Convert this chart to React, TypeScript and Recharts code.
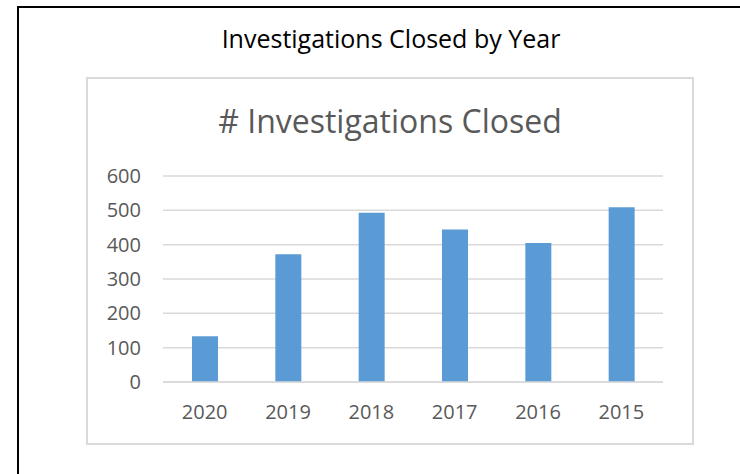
import React from "react";
import { BarChart, Bar, XAxis, YAxis, CartesianGrid } from "recharts";

const years = ["2020", "2019", "2018", "2017", "2016", "2015"];
const closed = [133, 372, 493, 444, 405, 509];
const yTicks = [0, 100, 200, 300, 400, 500, 600];

const data = years.map((year, i) => ({ year, closed: closed[i] }));

const FONT = '"Open Sans", sans-serif';
const GRID = "#d9d9d9";
const TEXT = "#595959";
const BAR = "#5b9bd5";

export default function App() {
  return (
    <div
      style={{
        position: "absolute", left: 0, top: 0, width: 740, height: 474,
        overflow: "hidden", background: "#fff", fontFamily: FONT,
      }}
    >
      {/* outer frame runs off the right and bottom edges */}
      <div
        style={{
          position: "absolute", left: 17, top: 6, width: 780, height: 520,
          border: "2px solid #000", boxSizing: "border-box",
        }}
      />
      <div
        style={{
          position: "absolute", left: 0, top: 26, width: 782, lineHeight: "25px",
          fontSize: 25, color: "#000", textAlign: "center", whiteSpace: "nowrap",
        }}
      >
        Investigations Closed by Year
      </div>
      {/* chart area box */}
      <div
        style={{
          position: "absolute", left: 86, top: 77, width: 608, height: 368,
          border: `2px solid ${GRID}`, boxSizing: "border-box",
        }}
      />
      <div
        style={{
          position: "absolute", left: 86, top: 105, width: 608, lineHeight: "32px",
          fontSize: 32, color: TEXT, textAlign: "center", whiteSpace: "nowrap",
        }}
      >
        # Investigations Closed
      </div>
      <div style={{ position: "absolute", left: 0, top: 0 }}>
        <BarChart
          width={740}
          height={474}
          data={data}
          margin={{ top: 176, right: 77, bottom: 52, left: 103 }}
        >
          <CartesianGrid vertical={false} stroke={GRID} strokeWidth={1.5} />
          <XAxis
            dataKey="year" height={40} tickSize={0} tickMargin={23} tickLine={false}
            axisLine={{ stroke: GRID, strokeWidth: 1.5 }}
            tick={{ fontSize: 20, fill: TEXT, fontFamily: FONT }}
          />
          <YAxis
            width={60} domain={[0, 600]} ticks={yTicks} interval={0}
            axisLine={false} tickLine={false} tickSize={0} tickMargin={22}
            tick={{ fontSize: 20, fill: TEXT, fontFamily: FONT }}
          />
          <Bar dataKey="closed" fill={BAR} barSize={26} isAnimationActive={false} />
        </BarChart>
      </div>
    </div>
  );
}
